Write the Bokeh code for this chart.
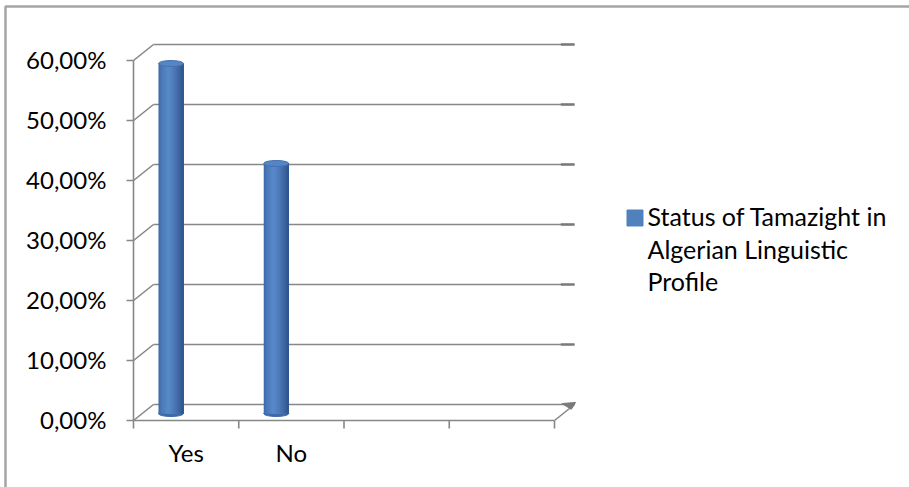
from bokeh.plotting import figure
from bokeh.models import Range1d, ColumnDataSource
from bokeh.core.properties import value
from bokeh.embed import file_html
from bokeh.resources import INLINE

# ---------------- data ----------------
categories = ["Yes", "No", "", ""]
bar_values = [58.33, 41.67]          # percent, for "Yes" and "No"
y_ticks = [0, 10, 20, 30, 40, 50, 60]
y_tick_labels = ["0,00%", "10,00%", "20,00%", "30,00%", "40,00%", "50,00%", "60,00%"]
series_name = "Status of Tamazight in Algerian Linguistic Profile"
legend_lines = ["Status of Tamazight in", "Algerian Linguistic", "Profile"]

# ---------------- layout / style ----------------
W, H = 909, 487
X0PX, Y0PX = 133.0, 420.0     # pixel position of front origin
PX_X, PX_Y = 105.25, 6.0      # pixels per category / per percent
FONT = "Lato"
FS_AX = "24px"
FS_LEG = "25px"
GRID = "#878787"
BLUE = "#4F81BD"

def px2x(px):
    return (px - X0PX) / PX_X

def px2y(py):
    return (Y0PX - py) / PX_Y

ncat = len(categories)
ymax = y_ticks[-1]
dx = 20.0 / PX_X              # depth offset (3D look)
dy = 16.0 / PX_Y

p = figure(width=W, height=H, output_backend="svg", toolbar_location=None,
           x_range=Range1d(px2x(0), px2x(W)), y_range=Range1d(px2y(H), px2y(0)),
           x_axis_location=None, y_axis_location=None, min_border=0)
p.grid.visible = False
p.outline_line_color = None
p.background_fill_color = "white"
p.border_fill_color = "white"

# outer chart-area border (left and top edges visible)
p.line([px2x(5), px2x(5), px2x(W + 5)], [px2y(H + 5), px2y(6), px2y(6)],
       line_color="#a5a5a5", line_width=2.5)

# back wall gridlines
p.multi_line(xs=[[dx, ncat + dx] for _ in y_ticks],
             ys=[[v + dy, v + dy] for v in y_ticks],
             line_color=GRID, line_width=1.6)
# darker right-wall edge segments
p.multi_line(xs=[[ncat + dx - 0.13, ncat + dx] for _ in y_ticks[1:]],
             ys=[[v + dy, v + dy] for v in y_ticks[1:]],
             line_color="#7a7a7a", line_width=2.4)
# left wall diagonals
p.multi_line(xs=[[0, dx] for _ in y_ticks],
             ys=[[v, v + dy] for v in y_ticks],
             line_color=GRID, line_width=1.6)
# front value axis + ticks
p.line([0, 0], [0, ymax], line_color=GRID, line_width=1.6)
p.multi_line(xs=[[-7.0 / PX_X, 0] for _ in y_ticks],
             ys=[[v, v] for v in y_ticks],
             line_color=GRID, line_width=1.6)
# floor: front edge, right diagonal, category ticks
p.line([0, ncat], [0, 0], line_color=GRID, line_width=1.6)
p.line([ncat, ncat + dx], [0, dy], line_color=GRID, line_width=1.6)
p.multi_line(xs=[[i, i] for i in range(ncat + 1)],
             ys=[[0, -8.0 / PX_Y] for _ in range(ncat + 1)],
             line_color=GRID, line_width=1.6)
# floor thickness wedge at right end
p.patch([ncat + dx - 0.12, ncat + dx + 0.01, ncat + dx - 0.03],
        [dy + 0.15, dy + 0.35, dy - 0.8],
        fill_color="#7a7a7a", line_color="#7a7a7a", line_width=1)

# ---------------- cylinders ----------------
bar_offset = 0.356
bw = 25.0 / PX_X
eh = 6.0 / PX_Y
base = 7.0 / PX_Y

def lerp(a, b, t):
    return tuple(int(round(a[k] + (b[k] - a[k]) * t)) for k in range(3))

left_c = (60, 100, 162)
mid_c = (88, 137, 202)
right_c = (46, 82, 138)

def shade(t):
    if t < 0.38:
        return lerp(left_c, mid_c, (t / 0.38) ** 0.6)
    return lerp(mid_c, right_c, ((t - 0.38) / 0.62) ** 1.3)

nstrip = 20
for i, v in enumerate(bar_values):
    cx = i + bar_offset
    top = base + v
    p.ellipse(x=[cx], y=[base], width=[bw], height=[eh],
              fill_color="#3b6aa8", line_color="#3b6aa8")
    lefts, rights, cols = [], [], []
    for k in range(nstrip):
        t = (k + 0.5) / nstrip
        lefts.append(cx - bw / 2 + k * bw / nstrip)
        rights.append(cx + bw / 2)          # overlapping layers: no seams
        cols.append("#%02x%02x%02x" % shade(t))
    src = ColumnDataSource(dict(left=lefts, right=rights, color=cols,
                                bottom=[base] * nstrip, top=[top] * nstrip))
    p.quad(left="left", right="right", bottom="bottom", top="top",
           fill_color="color", line_color=None, source=src)
    p.ellipse(x=[cx], y=[top], width=[bw], height=[eh],
              fill_color="#5585c5", line_color="#4672ae", line_width=1)

# ---------------- labels ----------------
TXT_SHIFT = 10.0 / PX_Y
p.text(x=[-0.257] * len(y_ticks), y=[v - 1.55 + TXT_SHIFT for v in y_ticks], text=y_tick_labels,
       text_align="right", text_baseline="alphabetic",
       text_font=value(FONT), text_font_size=FS_AX, text_color="#000000")
p.text(x=[i + 0.5 for i in range(ncat)], y=[-6.95 + TXT_SHIFT] * ncat, text=categories,
       text_align="center", text_baseline="alphabetic",
       text_font=value(FONT), text_font_size=FS_AX, text_color="#000000")

# legend
p.scatter(x=[px2x(634.5)], y=[px2y(217.5)], marker="square", size=16,
          fill_color=BLUE, line_color=BLUE)
p.text(x=[px2x(647)] * len(legend_lines),
       y=[px2y(225.7) + TXT_SHIFT, px2y(258.3) + TXT_SHIFT, px2y(290.5) + TXT_SHIFT],
       text=legend_lines,
       text_align="left", text_baseline="alphabetic",
       text_font=value(FONT), text_font_size=FS_LEG, text_color="#000000")

open("out.html", "w").write(file_html(p, INLINE))
